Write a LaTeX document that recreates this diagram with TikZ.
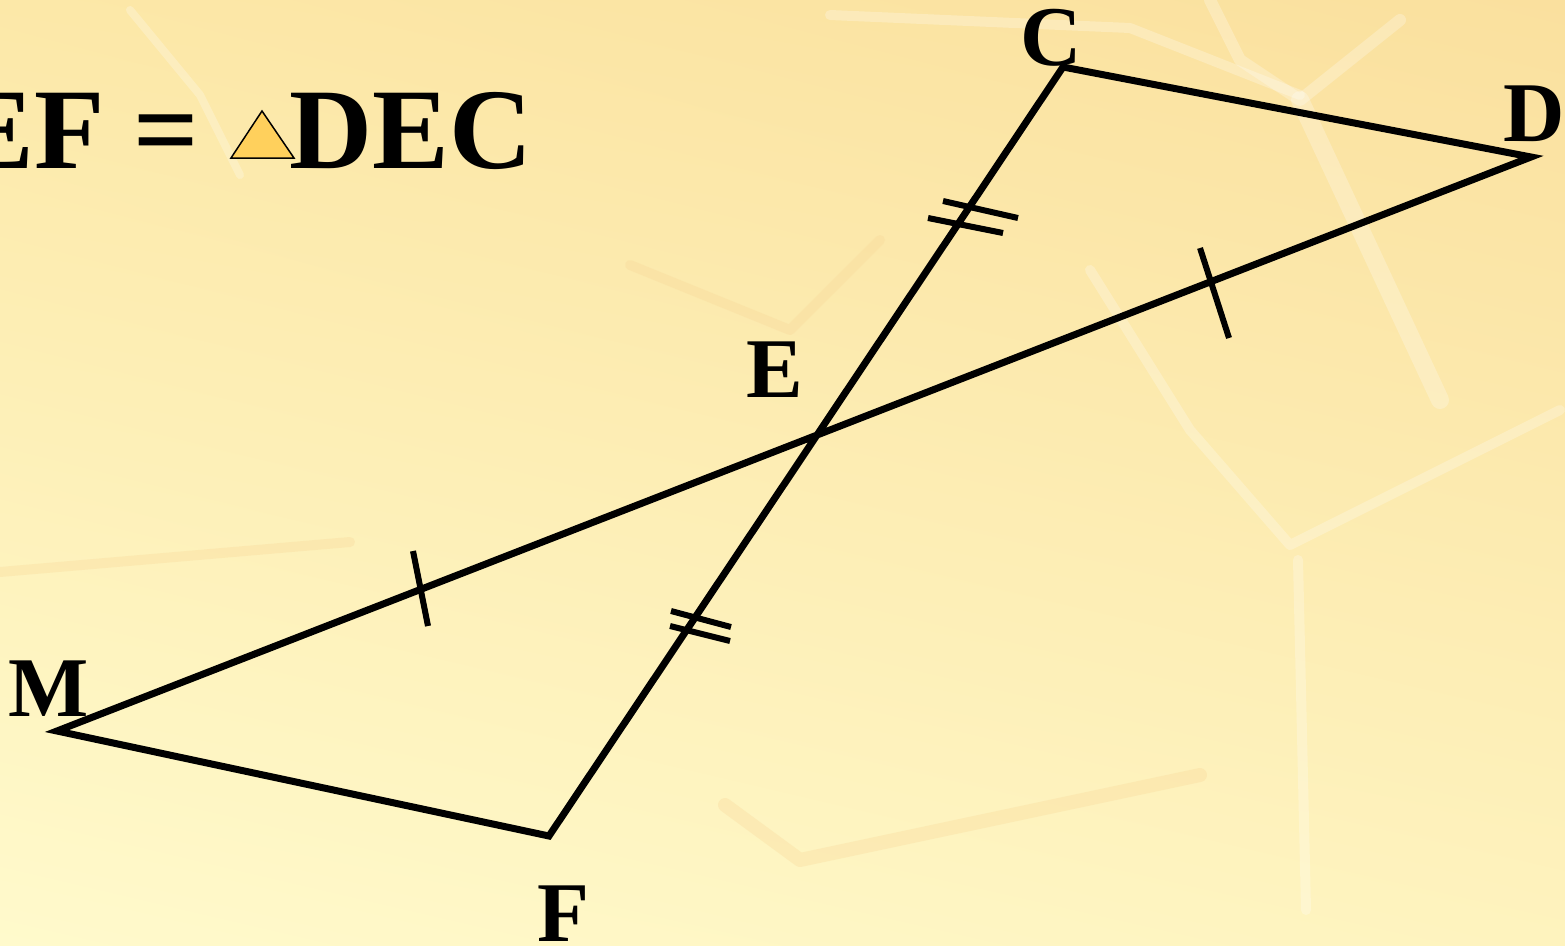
\documentclass[tikz,border=0pt]{standalone}
\usepackage{fontspec}
\setmainfont{Liberation Serif}
\usetikzlibrary{shadings}
\definecolor{bgUL}{RGB}{252,232,168}
\definecolor{bgUR}{RGB}{250,224,158}
\definecolor{bgLL}{RGB}{255,250,204}
\definecolor{bgLR}{RGB}{254,243,190}
\definecolor{leafdark}{RGB}{248,214,150}
\definecolor{trifill}{RGB}{255,208,92}
\begin{document}
\begin{tikzpicture}[x=1pt, y=-1pt, line width=7pt,
    every node/.style={inner sep=0pt, font=\bfseries\fontsize{85}{85}\selectfont},
    tick/.style={line width=6pt},
    streak/.style={line cap=round, line join=round, draw=white, opacity=0.25}]
	% 1. 背景
	\useasboundingbox (0,0) rectangle (1565,945);
	\shade[upper left=bgUL, upper right=bgUR, lower left=bgLL, lower right=bgLR]
	       (0,0) rectangle (1565,945);
	\draw[streak, line width=18pt] (1300,100) -- (1440,400);
	\draw[streak, line width=12pt] (1210,0) -- (1240,60) -- (1300,100) -- (1400,20);
	\draw[streak, line width=10pt] (830,15) -- (1130,28) -- (1300,95);
	\draw[streak, line width=10pt] (1090,270) -- (1190,430) -- (1290,545) -- (1560,410);
	\draw[streak, line width=10pt] (1298,560) -- (1306,910);
	\draw[streak, line width=8pt] (130,10) -- (200,95) -- (240,175);
	\draw[streak, draw=leafdark, opacity=0.3, line width=10pt] (630,265) -- (790,330) -- (880,240);
	\draw[streak, draw=leafdark, opacity=0.3, line width=10pt] (0,572) -- (350,542);
	\draw[streak, draw=leafdark, opacity=0.3, line width=14pt] (725,805) -- (800,860) -- (1200,775);

	% 2. 顶点与交点
	\coordinate (C) at (1063,67);
	\coordinate (D) at (1531,157);
	\coordinate (M) at (57,731);
	\coordinate (F) at (549,836);

	% 3. 四边形 CDMF（CF 与 DM 交于 E）
	\draw (C) -- (D) -- (M) -- (F) -- cycle;

	% 4. 等长记号
	\draw[tick] (1200,248) -- (1229,338);
	\draw[tick] (413,551) -- (428,626);
	\draw[tick] (943,201) -- (1018,218);
	\draw[tick] (928,218) -- (1003,233);
	\draw[tick] (671,611) -- (731,627);
	\draw[tick] (670,626) -- (730,641);

	% 5. 顶点标签
	\node (labC) at (1051,38) {C};
	\node (labD) at (1534,114) {D};
	\node (labE) at (775,370) {E};
	\node (labM) at (49,689) {M};
	\node (labF) at (563,914) {F};

	% 6. 结论文字
	\node[anchor=base west, font=\bfseries\fontsize{115}{115}\selectfont] (txtL) at (-46,168) {EF =};
	\filldraw[fill=trifill, draw=black, line width=1.5pt]
	    (231,158) -- (262,111) -- (294,158) -- cycle;
	\node[anchor=base west, font=\bfseries\fontsize{115}{115}\selectfont] (txtR) at (286,168) {DEC};
\end{tikzpicture}
\end{document}
